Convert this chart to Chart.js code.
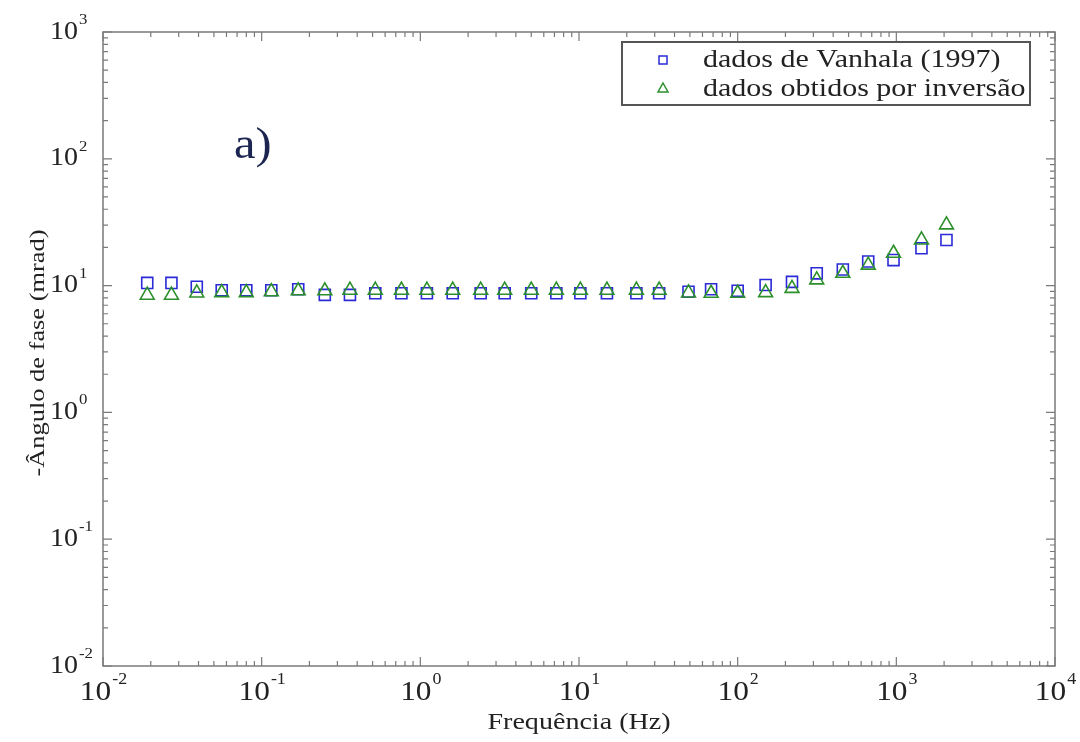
<!DOCTYPE html>
<html>
<head>
<meta charset="utf-8">
<title>Ângulo de fase</title>
<script src="https://cdn.jsdelivr.net/npm/chart.js@4.4.1/dist/chart.umd.min.js"></script>
<style>
  html, body { margin: 0; padding: 0; background: #ffffff; }
  #faseChart { display: block; }
</style>
</head>
<body>
<canvas id="faseChart" width="1080" height="742"></canvas>
<script>
// frequencias (Hz)
var frequencias = [0.019, 0.027, 0.039, 0.056, 0.08, 0.115, 0.17, 0.25, 0.36, 0.52, 0.76, 1.1,
  1.6, 2.4, 3.4, 5.0, 7.2, 10.2, 15, 23, 32, 49, 68, 100, 150, 220, 315, 460, 665, 960, 1440, 2070];

// -angulo de fase (mrad)
var dadosVanhala = [10.5, 10.5, 9.8, 9.2, 9.2, 9.2, 9.35, 8.45, 8.45, 8.7, 8.7, 8.7,
  8.7, 8.7, 8.7, 8.7, 8.7, 8.7, 8.7, 8.7, 8.7, 8.95, 9.35, 9.1, 10.1, 10.7, 12.5, 13.4, 15.5, 15.9, 19.7, 22.9];
var dadosInversao = [8.4, 8.4, 8.75, 8.8, 8.8, 8.95, 9.1, 9.1, 9.2, 9.2, 9.2, 9.2,
  9.2, 9.2, 9.2, 9.2, 9.2, 9.2, 9.2, 9.2, 9.2, 8.75, 8.7, 8.7, 8.8, 9.5, 11.1, 12.5, 14.5, 18.0, 22.9, 30.1];

var legendas = ['dados de Vanhala (1997)', 'dados obtidos por inversão'];
var expoentesX = [-2, -1, 0, 1, 2, 3, 4];
var expoentesY = [-2, -1, 0, 1, 2, 3];
var tituloX = 'Frequência (Hz)';
var tituloY = '-Ângulo de fase (mrad)';
var rotuloPainel = 'a)';

var corAzul = '#2a2ad8';
var corVerde = '#2b8f2b';
var corEixo = '#7a7a7a';
var fonteSerif = '"Liberation Serif", "DejaVu Serif", serif';

function pontos(ys) {
  var out = [];
  for (var i = 0; i < frequencias.length; i++) {
    out.push({ x: frequencias[i], y: ys[i] });
  }
  return out;
}

// texto esticado na horizontal (o original parece esticado)
function textoLargo(ctx, str, x, y, sx, align) {
  ctx.save();
  ctx.translate(x, y);
  ctx.scale(sx, 1);
  ctx.textAlign = align || 'left';
  ctx.fillText(str, 0, 0);
  ctx.restore();
}

function larguraTexto(ctx, str, sx) {
  return ctx.measureText(str).width * sx;
}

var molduraPlugin = {
  id: 'moldura',
  beforeDatasetsDraw: function(chart) {
    var ctx = chart.ctx;
    var a = chart.chartArea;
    var xs = chart.scales.x, ys = chart.scales.y;
    ctx.save();
    ctx.strokeStyle = corEixo;
    ctx.lineWidth = 1.5;
    ctx.strokeRect(a.left, a.top, a.right - a.left, a.bottom - a.top);

    ctx.lineWidth = 1.2;
    ctx.beginPath();
    // ticks do eixo x, para dentro, em baixo e em cima
    for (var e = expoentesX[0]; e <= expoentesX[expoentesX.length - 1]; e++) {
      for (var k = 1; k <= 9; k++) {
        if (e === expoentesX[expoentesX.length - 1] && k > 1) break;
        var px = xs.getPixelForValue(k * Math.pow(10, e));
        var len = (k === 1) ? 9 : 5;
        ctx.moveTo(px, a.bottom);
        ctx.lineTo(px, a.bottom - len);
        ctx.moveTo(px, a.top);
        ctx.lineTo(px, a.top + len);
      }
    }
    // ticks do eixo y, esquerda e direita
    for (var f = expoentesY[0]; f <= expoentesY[expoentesY.length - 1]; f++) {
      for (var j = 1; j <= 9; j++) {
        if (f === expoentesY[expoentesY.length - 1] && j > 1) break;
        var py = ys.getPixelForValue(j * Math.pow(10, f));
        var l2 = (j === 1) ? 9 : 5;
        ctx.moveTo(a.left, py);
        ctx.lineTo(a.left + l2, py);
        ctx.moveTo(a.right, py);
        ctx.lineTo(a.right - l2, py);
      }
    }
    ctx.stroke();
    ctx.restore();
  },
  afterDraw: function(chart) {
    var ctx = chart.ctx;
    var a = chart.chartArea;
    var xs = chart.scales.x, ys = chart.scales.y;
    var sx = 1.12;
    ctx.save();
    ctx.fillStyle = '#222222';
    ctx.textBaseline = 'middle';

    // rotulos do eixo x: 10 com expoente
    expoentesX.forEach(function(e) {
      var px = xs.getPixelForValue(Math.pow(10, e));
      ctx.font = '28px ' + fonteSerif;
      var w10 = larguraTexto(ctx, '10', sx);
      ctx.font = '16px ' + fonteSerif;
      var wE = larguraTexto(ctx, String(e), sx);
      var x0 = px - (w10 + wE) / 2;
      ctx.font = '28px ' + fonteSerif;
      textoLargo(ctx, '10', x0, a.bottom + 27, sx);
      ctx.font = '16px ' + fonteSerif;
      textoLargo(ctx, String(e), x0 + w10 + 1, a.bottom + 14, sx);
    });

    // rotulos do eixo y
    expoentesY.forEach(function(e) {
      var py = ys.getPixelForValue(Math.pow(10, e));
      ctx.font = '25px ' + fonteSerif;
      var w10 = larguraTexto(ctx, '10', sx);
      textoLargo(ctx, '10', 50, py, sx);
      ctx.font = '15px ' + fonteSerif;
      textoLargo(ctx, String(e), 50 + w10 + 1, py - 12, sx);
    });

    // titulos dos eixos
    ctx.font = '23px ' + fonteSerif;
    ctx.textBaseline = 'alphabetic';
    textoLargo(ctx, tituloX, (a.left + a.right) / 2, a.bottom + 63, 1.22, 'center');
    ctx.save();
    ctx.translate(44, 353);
    ctx.rotate(-Math.PI / 2);
    ctx.font = '22px ' + fonteSerif;
    textoLargo(ctx, tituloY, 0, 0, 1.2, 'center');
    ctx.restore();

    // rotulo do painel
    ctx.fillStyle = '#1c2550';
    ctx.font = '44px ' + fonteSerif;
    textoLargo(ctx, rotuloPainel, 234, 158, 1.1, 'left');

    // legenda
    ctx.fillStyle = '#ffffff';
    ctx.fillRect(622, 42, 408, 63);
    ctx.strokeStyle = '#555555';
    ctx.lineWidth = 2;
    ctx.strokeRect(622, 42, 408, 63);

    ctx.lineWidth = 1.5;
    ctx.strokeStyle = corAzul;
    ctx.strokeRect(659, 56, 8, 8);
    ctx.strokeStyle = corVerde;
    ctx.beginPath();
    ctx.moveTo(663, 83);
    ctx.lineTo(668, 92);
    ctx.lineTo(658, 92);
    ctx.closePath();
    ctx.stroke();

    ctx.fillStyle = '#222222';
    ctx.font = '25px ' + fonteSerif;
    textoLargo(ctx, legendas[0], 703, 67, 1.2, 'left');
    textoLargo(ctx, legendas[1], 703, 96, 1.2, 'left');
    ctx.restore();
  }
};

var ctxFase = document.getElementById('faseChart');
var faseChart = new Chart(ctxFase, {
  type: 'scatter',
  data: {
    datasets: [
      {
        label: legendas[1],
        data: pontos(dadosInversao),
        pointStyle: 'triangle',
        pointRadius: 8,
        borderColor: corVerde,
        backgroundColor: 'rgba(0,0,0,0)',
        borderWidth: 1.6,
        showLine: false
      },
      {
        label: legendas[0],
        data: pontos(dadosVanhala),
        pointStyle: 'rect',
        pointRadius: 7.8,
        borderColor: corAzul,
        backgroundColor: 'rgba(0,0,0,0)',
        borderWidth: 1.6,
        showLine: false
      }
    ]
  },
  options: {
    responsive: false,
    devicePixelRatio: 1,
    animation: false,
    layout: { padding: { left: 103, right: 25, top: 32, bottom: 76 } },
    scales: {
      x: { type: 'logarithmic', min: 0.01, max: 10000, display: false },
      y: { type: 'logarithmic', min: 0.01, max: 1000, display: false }
    },
    plugins: {
      legend: { display: false },
      tooltip: { enabled: false }
    }
  },
  plugins: [molduraPlugin]
});
</script>
</body>
</html>
